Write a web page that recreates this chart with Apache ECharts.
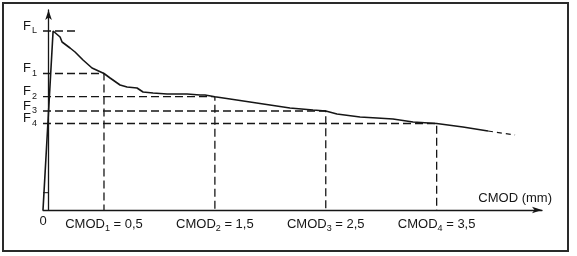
<!DOCTYPE html>
<html><head><meta charset="utf-8">
<script src="https://cdn.jsdelivr.net/npm/echarts@6/dist/echarts.min.js"></script>
<style>html,body{margin:0;padding:0;background:#fff}#c{width:577px;height:256px}</style>
</head><body><div id="c"></div>
<script>
// Load vs CMOD curve (schematic, y in arbitrary units)
const curveX = [-0.05, 0.041, 0.104, 0.122, 0.194, 0.239, 0.311, 0.392, 0.5, 0.555, 0.645, 0.708, 0.798, 0.852, 0.942, 1.069, 1.249, 1.366, 1.411, 1.5, 1.637, 1.817, 1.997, 2.177, 2.385, 2.5, 2.601, 2.809, 2.962, 3.106, 3.287, 3.5, 3.737, 3.963];
const curveY = [0, 179, 173, 168, 162, 158, 150, 142, 136.5, 132, 125, 123, 122, 118, 117, 116, 116, 115, 115, 113.3, 111, 108, 105, 102, 100, 99, 96, 93, 92, 91, 88, 86.5, 83, 79];
const extX = [3.963, 4.207];
const extY = [79, 75];
const forceSubs = ['4', '3', '2', '1', 'L'];
const forceValues = [86.5, 99, 113.3, 136.5, 179];
const guideEndX = [3.5, 2.5, 1.5, 0.5, 0.266];
const xLabelValues = [-0.05, 0.5, 1.5, 2.5, 3.5];
const xLabelSubs = ['', '1', '2', '3', '4'];
const xLabelNums = ['0', '0,5', '1,5', '2,5', '3,5'];
const xMin = -0.05, xMax = 4.45, yMin = 0, yMax = 200;

const FONT = 'Liberation Sans, Arial, sans-serif';
const INK = '#161616';
const series = [];
series.push({
  type: 'line', data: curveX.map((x, i) => [x, curveY[i]]), symbol: 'none',
  lineStyle: {color: INK, width: 1.6}, z: 5, silent: true
});
series.push({
  type: 'line', data: extX.map((x, i) => [x, extY[i]]), symbol: 'none',
  lineStyle: {color: INK, width: 1.2, type: [5, 4]}, z: 5, silent: true
});
forceValues.forEach((f, i) => {
  const pts = [[xMin, f], [guideEndX[i], f]];
  if (forceSubs[i] !== 'L') pts.push([guideEndX[i], 0]);
  series.push({
    type: 'line', data: pts, symbol: 'none',
    lineStyle: {color: INK, width: 1.3, type: [8, 4]}, z: 3, silent: true
  });
});
series.push({
  type: 'line', data: [[xMin, 17.3], [0.0, 17.3]], symbol: 'none',
  lineStyle: {color: INK, width: 1}, silent: true
});

const idxOf = v => forceValues.findIndex(t => Math.abs(t - v) < 1e-6);
const evenF = forceValues.filter((v, i) => i % 2 === 0);
const oddF = forceValues.filter((v, i) => i % 2 === 1);
const fAxis = (vals, showLine) => ({
  type: 'value', min: yMin, max: yMax, position: 'left',
  axisLine: showLine ? {show: true, lineStyle: {color: INK, width: 1.3}, symbol: ['none', 'arrow'], symbolSize: [5, 10]} : {show: false},
  axisTick: {show: false}, splitLine: {show: false},
  axisLabel: {
    customValues: vals, margin: 12, hideOverlap: false, showMinLabel: true, showMaxLabel: true,
    fontSize: 13, lineHeight: 10, fontFamily: FONT, color: INK, verticalAlign: 'bottom',
    formatter: v => idxOf(v) < 0 ? '' : 'F'
  }
});
const chart = echarts.init(document.getElementById('c'));
chart.setOption({
  animation: false,
  backgroundColor: '#fff',
  grid: {left: 43, right: 35, top: 10, bottom: 46},
  xAxis: {
    type: 'value', min: xMin, max: xMax,
    name: 'CMOD (mm)', nameLocation: 'end', nameGap: 10,
    nameTextStyle: {fontSize: 13, fontFamily: FONT, color: INK, align: 'right', verticalAlign: 'bottom', padding: [0, 0, 5, 0]},
    axisLine: {lineStyle: {color: INK, width: 1.3}, symbol: ['none', 'arrow'], symbolSize: [5, 10]},
    axisTick: {show: false}, splitLine: {show: false},
    axisLabel: {
      customValues: xLabelValues, margin: 5, hideOverlap: false, showMinLabel: true, showMaxLabel: true,
      formatter: function (v) {
        let i = xLabelValues.findIndex(t => Math.abs(t - v) < 1e-6);
        if (i < 0) return '';
        if (!xLabelSubs[i]) return '{a|' + xLabelNums[i] + '}';
        return '{a|CMOD}{s|' + xLabelSubs[i] + '}{a| = ' + xLabelNums[i] + '}';
      },
      rich: {
        a: {fontSize: 13, fontFamily: FONT, color: INK},
        s: {fontSize: 9, fontFamily: FONT, color: INK, padding: [9, 0, 0, 0]}
      }
    }
  },
  yAxis: [fAxis(evenF, true), fAxis(oddF, false), {
    type: 'value', min: yMin, max: yMax, position: 'left',
    axisLine: {show: false}, axisTick: {show: false}, splitLine: {show: false},
    axisLabel: {
      customValues: forceValues, margin: 6, hideOverlap: false, showMinLabel: true, showMaxLabel: true,
      fontSize: 9, lineHeight: 8, fontFamily: FONT, color: INK, padding: [3, 0, 0, 0],
      formatter: v => { const i = idxOf(v); return i < 0 ? '' : forceSubs[i]; }
    }
  }],
  graphic: [{
    type: 'rect', shape: {x: 3, y: 3, width: 565, height: 248},
    style: {fill: 'none', stroke: '#2a2a2a', lineWidth: 2}, silent: true
  }],
  series: series
});
</script></body></html>
